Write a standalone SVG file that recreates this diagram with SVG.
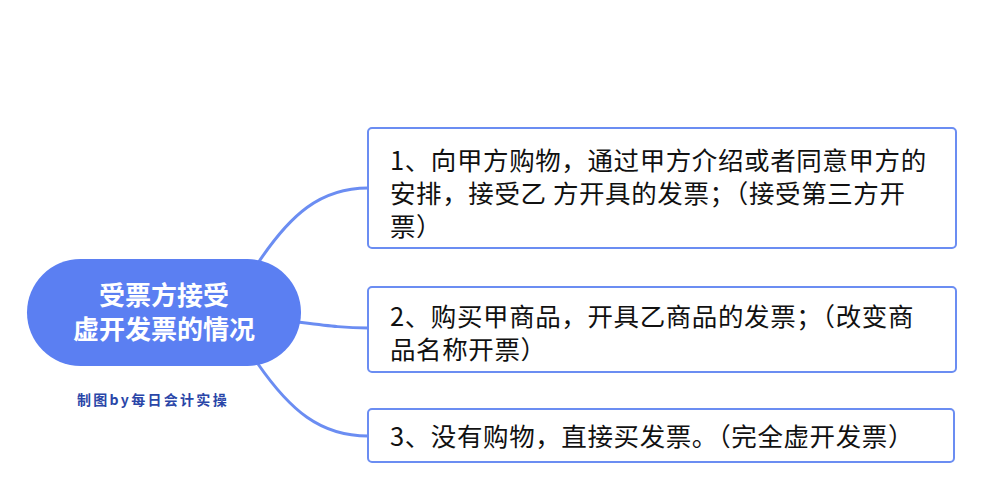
<svg xmlns="http://www.w3.org/2000/svg" width="982" height="504" viewBox="0 0 982 504">
<style>
.t{font-family:"Noto Sans CJK SC","Liberation Sans",sans-serif;font-size:25.5px;fill:#111;letter-spacing:0.6px}
.b{fill:#fff;stroke:#6b8df2;stroke-width:2}
.c{fill:none;stroke:#6b8df2;stroke-width:3}
</style>
<rect width="982" height="504" fill="#fff"/>
<g id="connectors">
<path class="c" d="M258,263 C290,215 320,188 368,188"/>
<path class="c" d="M298,322 C330,326 345,328 368,328"/>
<path class="c" d="M258,364 C290,410 320,436 368,436"/>
</g>
<g id="root">
<rect x="27" y="259" width="274" height="107" rx="53.5" fill="#5b7ff2"/>
<text font-family="'Noto Sans CJK SC','Liberation Sans',sans-serif" font-size="26" font-weight="bold" fill="#fff" text-anchor="middle"><tspan x="164" y="305">受票方接受</tspan><tspan x="164" y="339">虚开发票的情况</tspan></text>
</g>
<g id="caption"><text x="153" y="405" text-anchor="middle" font-family="'Noto Sans CJK SC','Liberation Sans',sans-serif" font-size="14" font-weight="bold" fill="#2a46a8" letter-spacing="2.3">制图by每日会计实操</text></g>
<g id="n1"><rect class="b" x="368" y="128" width="588" height="120" rx="4"/>
<text class="t"><tspan x="390" y="170">1、向甲方购物，通过甲方介绍或者同意甲方的</tspan><tspan x="390" y="203">安排，接受乙 方开具的发票；（接受第三方开</tspan><tspan x="390" y="236">票）</tspan></text></g>
<g id="n2"><rect class="b" x="368" y="287" width="588" height="85" rx="4"/>
<text class="t"><tspan x="390" y="326">2、购买甲商品，开具乙商品的发票；（改变商</tspan><tspan x="390" y="359">品名称开票）</tspan></text></g>
<g id="n3"><rect class="b" x="368" y="409" width="586" height="53" rx="4"/>
<text class="t" x="390" y="446">3、没有购物，直接买发票。（完全虚开发票）</text></g>
</svg>
